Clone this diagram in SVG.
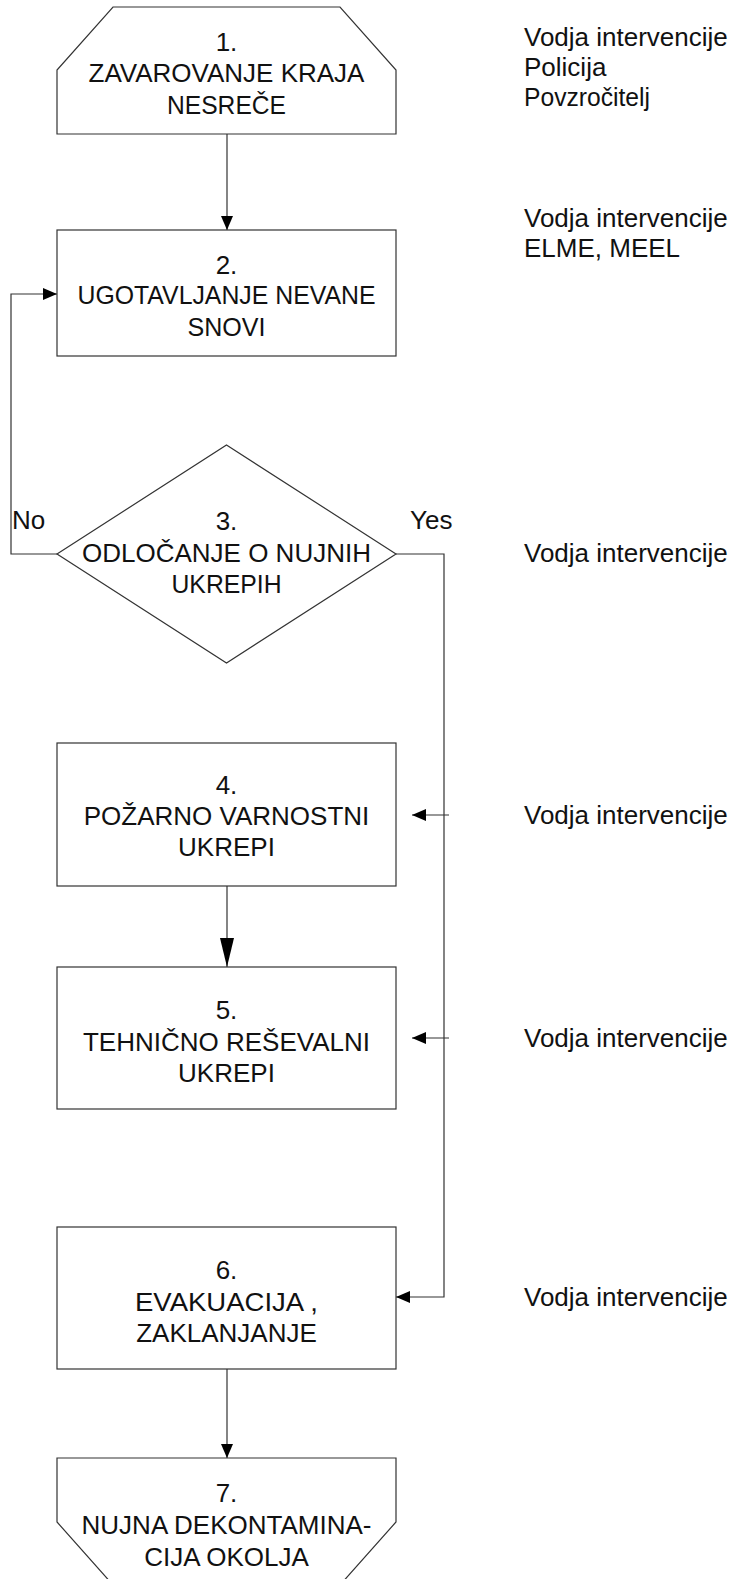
<svg xmlns="http://www.w3.org/2000/svg" width="734" height="1579" viewBox="0 0 734 1579">
<style>
.shape{fill:#fff;stroke:#333;stroke-width:1.2}
.line{fill:none;stroke:#333;stroke-width:1.2}
text{font-family:"Liberation Sans",Arial,sans-serif;font-size:26px;fill:#111}
.c{text-anchor:middle}
</style>
<defs>
<marker id="ah" markerUnits="userSpaceOnUse" viewBox="0 0 14 12" refX="14" refY="6" markerWidth="14" markerHeight="12" orient="auto">
<path d="M0,0 L14,6 L0,12 z" fill="#000"/>
</marker>
<marker id="ahl" markerUnits="userSpaceOnUse" viewBox="0 0 29 14" refX="29" refY="7" markerWidth="29" markerHeight="14" orient="auto">
<path d="M0,0 L29,7 L0,14 z" fill="#000"/>
</marker>
</defs>
<rect width="734" height="1579" fill="#fff"/>
<g id="connectors">
<path class="line" d="M227,134 V230" marker-end="url(#ah)"/>
<path class="line" d="M57,554 H11 V294 H57" marker-end="url(#ah)"/>
<path class="line" d="M396,554 H444 V1297 H396" marker-end="url(#ah)"/>
<path class="line" d="M449,815 H412" marker-end="url(#ah)"/>
<path class="line" d="M449,1038 H412" marker-end="url(#ah)"/>
<path class="line" d="M227,886 V967" marker-end="url(#ahl)"/>
<path class="line" d="M227,1369 V1458" marker-end="url(#ah)"/>
</g>
<g id="node1">
<polygon class="shape" points="113,7 340,7 396,70 396,134 57,134 57,70"/>
<text class="c" x="226.5" y="51">1.</text>
<text class="c" x="226.5" y="82">ZAVAROVANJE KRAJA</text>
<text class="c" x="226.5" y="114" textLength="119" lengthAdjust="spacingAndGlyphs">NESREČE</text>
</g>
<g id="node2">
<rect class="shape" x="57" y="230" width="339" height="126"/>
<text class="c" x="226.5" y="274">2.</text>
<text class="c" x="226.5" y="304" textLength="298" lengthAdjust="spacingAndGlyphs">UGOTAVLJANJE NEVANE</text>
<text class="c" x="226.5" y="336" textLength="78" lengthAdjust="spacingAndGlyphs">SNOVI</text>
</g>
<g id="node3">
<polygon class="shape" points="226.5,445 396,554 226.5,663 57,554"/>
<text class="c" x="226.5" y="530">3.</text>
<text class="c" x="226.5" y="562">ODLOČANJE O NUJNIH</text>
<text class="c" x="226.5" y="593" textLength="110" lengthAdjust="spacingAndGlyphs">UKREPIH</text>
</g>
<g id="node4">
<rect class="shape" x="57" y="743" width="339" height="143"/>
<text class="c" x="226.5" y="794">4.</text>
<text class="c" x="226.5" y="825">POŽARNO VARNOSTNI</text>
<text class="c" x="226.5" y="856">UKREPI</text>
</g>
<g id="node5">
<rect class="shape" x="57" y="967" width="339" height="142"/>
<text class="c" x="226.5" y="1019">5.</text>
<text class="c" x="226.5" y="1051">TEHNIČNO REŠEVALNI</text>
<text class="c" x="226.5" y="1082">UKREPI</text>
</g>
<g id="node6">
<rect class="shape" x="57" y="1227" width="339" height="142"/>
<text class="c" x="226.5" y="1279">6.</text>
<text class="c" x="226.5" y="1311" textLength="183" lengthAdjust="spacingAndGlyphs">EVAKUACIJA ,</text>
<text class="c" x="226.5" y="1342">ZAKLANJANJE</text>
</g>
<g id="node7">
<polygon class="shape" points="57,1458 396,1458 396,1522 340,1585 113,1585 57,1522"/>
<text class="c" x="226.5" y="1502">7.</text>
<text class="c" x="226.5" y="1534">NUJNA DEKONTAMINA-</text>
<text class="c" x="226.5" y="1566">CIJA OKOLJA</text>
</g>
<g id="labels">
<text x="12" y="529">No</text>
<text x="410" y="529">Yes</text>
<text x="524" y="46">Vodja intervencije</text>
<text x="524" y="76">Policija</text>
<text x="524" y="106" textLength="126" lengthAdjust="spacingAndGlyphs">Povzročitelj</text>
<text x="524" y="227">Vodja intervencije</text>
<text x="524" y="257">ELME, MEEL</text>
<text x="524" y="562">Vodja intervencije</text>
<text x="524" y="824">Vodja intervencije</text>
<text x="524" y="1047">Vodja intervencije</text>
<text x="524" y="1306">Vodja intervencije</text>
</g>
</svg>
